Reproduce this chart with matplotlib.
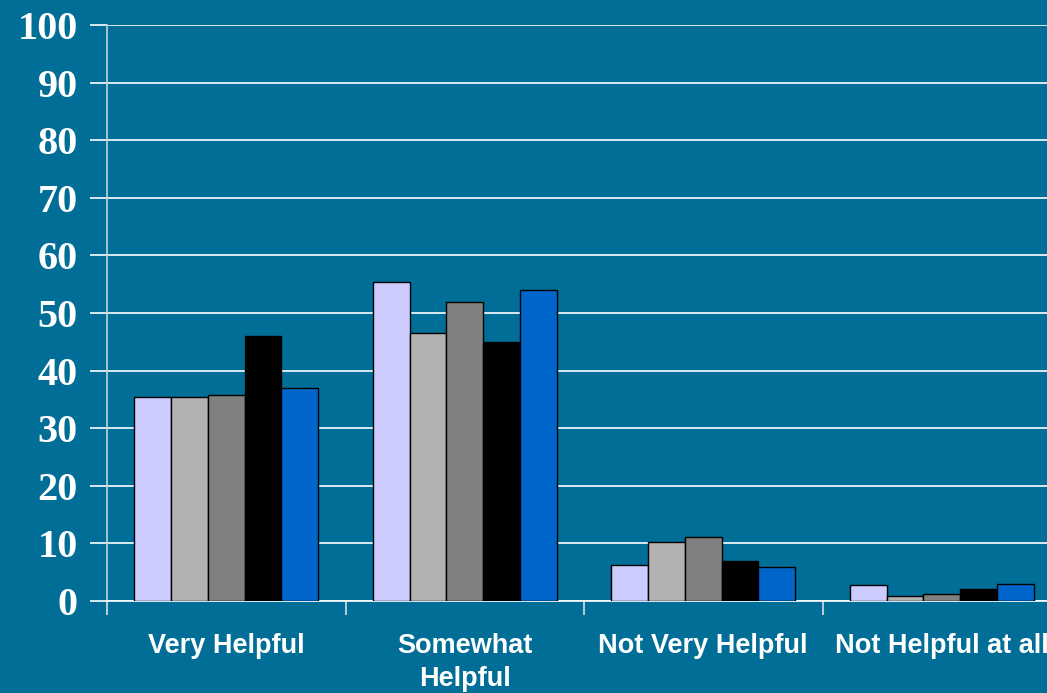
import numpy as np
import matplotlib
matplotlib.use("Agg")
import matplotlib.pyplot as plt

# data
categories = ["Very Helpful", "Somewhat\nHelpful", "Not Very Helpful", "Not Helpful at all"]
s1 = [35.5, 55.3, 6.3, 2.7]
s2 = [35.5, 46.5, 10.3, 0.9]
s3 = [35.7, 51.9, 11.1, 1.2]
s4 = [46.0, 45.0, 6.9, 2.0]
s5 = [37.0, 54.0, 5.9, 2.9]
series = [s1, s2, s3, s4, s5]
colors = ["#CCCCFF", "#B2B2B2", "#808080", "#000000", "#0066CC"]
yticks = list(range(0, 101, 10))

bg = "#006E96"
fig = plt.figure(figsize=(10.47, 6.93), dpi=100, facecolor=bg)
ax = fig.add_axes([107/1047, 1-601/693, 4*238.5/1047, (601-25)/693])
ax.set_facecolor(bg)

x = np.arange(len(categories)) + 0.5
w = 0.154
for i, (vals, c) in enumerate(zip(series, colors)):
    ax.bar(x + (i-2)*w, vals, width=w, color=c, edgecolor="black", linewidth=1, zorder=3)

ax.set_ylim(0, 100)
ax.set_xlim(0, 4)
ax.set_yticks(yticks)
ax.set_yticklabels([str(t) for t in yticks], family="Liberation Serif", fontweight="bold",
                   fontsize=29, color="white")
ax.yaxis.grid(True, color="white", linewidth=1.2, zorder=0)
ax.tick_params(axis="y", length=12, width=1.2, color="white", pad=9, direction="out")

ax.set_xticks([0, 1, 2, 3, 4])
ax.set_xticklabels([])
ax.set_xticks(x, minor=True)
ax.set_xticklabels(categories, minor=True, family="Liberation Sans", fontweight="bold",
                   fontsize=19.5, color="white", linespacing=1.33, va="top")
ax.tick_params(axis="x", which="major", length=10, width=1.2, color="#DDDDDD", direction="out")
ax.tick_params(axis="x", which="minor", length=0, pad=23)

for s in ["top", "right"]:
    ax.spines[s].set_visible(False)
ax.spines["left"].set_color("#C8D0D8")
ax.spines["left"].set_linewidth(1.2)
ax.spines["bottom"].set_color("white")
ax.spines["bottom"].set_linewidth(1.2)
ax.set_axisbelow(True)

fig.savefig("out.png", dpi=100, facecolor=bg)
